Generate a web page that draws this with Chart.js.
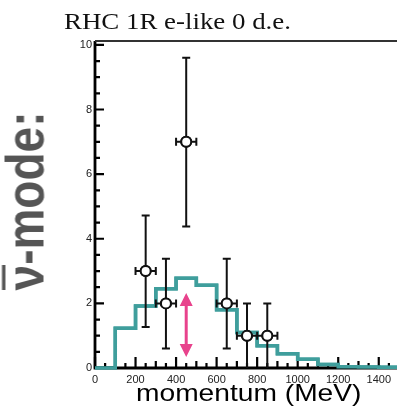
<!DOCTYPE html>
<html lang="en">
<head>
    <meta charset="UTF-8">
    <title>RHC 1R e-like 0 d.e.</title>
    <script src="https://cdn.jsdelivr.net/npm/chart.js"></script>
    <style>
        body { margin: 0; background: #fff; }
        #wrap { position: relative; width: 404px; height: 408px; overflow: hidden; }
        #plot { position: absolute; left: 0; top: 0; }
        .txt { position: absolute; white-space: nowrap; }
        #title { left: 64px; top: 9px; font: 24px/24px "Liberation Serif", serif; color: #111; transform: scaleX(1.12); transform-origin: left top; }
        #xlabel { left: 136px; top: 381px; font: 24.5px/24px "Liberation Sans", Arial, sans-serif; color: #000; transform: scaleX(1.15); transform-origin: left top; }
        #ylabel { left: -95px; top: 171px; width: 240px; height: 60px; text-align: center; font: bold 46px/60px "Liberation Sans", Arial, sans-serif; color: #555; transform: rotate(-90deg) scaleY(1.15); }
        #ylabel .nu { display: inline-block; border-top: 3.5px solid #555; line-height: 0.74em; }
    </style>
</head>
<body>
<div id="wrap">
    <canvas id="plot" width="404" height="408"></canvas>
    <div class="txt" id="title">RHC 1R e-like 0 d.e.</div>
    <div class="txt" id="xlabel">momentum (MeV)</div>
    <div class="txt" id="ylabel"><span class="nu">ν</span>-mode:</div>
</div>

<script>
    // histogram bins (MeV) and expected events
    const binEdges = [0, 100, 200, 300, 400, 500, 600, 700, 800, 900, 1000, 1100, 1200, 1300, 1400, 1500];
    const mcValues = [0, 1.23, 1.92, 2.45, 2.78, 2.56, 1.8, 1.1, 0.69, 0.44, 0.27, 0.11, 0.04, 0.03, 0.02];

    // data points with error bars
    const dataX = [250, 350, 450, 650, 750, 850];
    const dataY = [3, 2, 7, 2, 1, 1];
    const errLow = [1.27, 0.6, 4.38, 0.6, 0, 0];
    const errHigh = [4.72, 3.38, 9.6, 3.38, 2.0, 2.0];
    const binHalf = 50;

    // pink double arrow
    const arrowX = [450];
    const arrowFrom = [0.34];
    const arrowTo = [2.32];

    const xTicks = [0, 200, 400, 600, 800, 1000, 1200, 1400];
    const yTicks = [0, 2, 4, 6, 8, 10];

    const histPoints = binEdges.map((x, i) => ({ x: x, y: mcValues[Math.min(i, mcValues.length - 1)] }));
    const dataPoints = dataX.map((x, i) => ({ x: x, y: dataY[i] }));

    // frame and inside tick marks, ROOT style
    function drawFrame(chart) {
        const ctx = chart.ctx;
        const a = chart.chartArea;
        const xs = chart.scales.x, ys = chart.scales.y;
        ctx.save();
        ctx.lineCap = 'butt';
        ctx.strokeStyle = '#000';
        ctx.lineWidth = 2.8;
        ctx.beginPath();
        ctx.moveTo(a.left, a.top);
        ctx.lineTo(a.left, a.bottom);
        ctx.lineTo(a.right, a.bottom);
        ctx.stroke();
        ctx.strokeStyle = '#333';
        ctx.lineWidth = 2.2;
        ctx.beginPath();
        ctx.moveTo(a.left, a.top);
        ctx.lineTo(a.right, a.top);
        ctx.stroke();

        ctx.strokeStyle = '#000';
        ctx.lineWidth = 2.2;
        ctx.beginPath();
        for (let i = 0; i <= 20; i++) {
            const py = ys.getPixelForValue(i * 0.5);
            const len = (i % 4 === 0) ? 9 : 5;
            ctx.moveTo(a.left, py);
            ctx.lineTo(a.left + len, py);
        }
        for (let i = 0; i <= 29; i++) {
            const px = xs.getPixelForValue(i * 50);
            const len = (i % 4 === 0) ? 11 : ((i % 2 === 0) ? 7 : 5);
            ctx.moveTo(px, a.bottom);
            ctx.lineTo(px, a.bottom - len);
        }
        ctx.stroke();
        ctx.restore();
    }

    const rootStyle = {
        id: 'rootStyle',
        afterDraw(chart) {
            drawFrame(chart);
            const { ctx, scales: { x, y } } = chart;
            // the teal histogram sits on top of the bottom axis where it is ~0
            const hist = chart.getDatasetMeta(1);
            ctx.save();
            ctx.beginPath();
            ctx.rect(chart.chartArea.left, chart.chartArea.top, chart.chartArea.width, chart.chartArea.height + 3);
            ctx.clip();
            hist.dataset.draw(ctx, chart.chartArea);
            ctx.restore();
            // error bars
            ctx.save();
            ctx.strokeStyle = '#111';
            ctx.lineWidth = 2;
            ctx.beginPath();
            dataX.forEach((dx, i) => {
                const px = x.getPixelForValue(dx);
                const py = y.getPixelForValue(dataY[i]);
                const lo = y.getPixelForValue(errLow[i]);
                const hi = y.getPixelForValue(errHigh[i]);
                const l = x.getPixelForValue(dx - binHalf);
                const r = x.getPixelForValue(dx + binHalf);
                ctx.moveTo(px, lo); ctx.lineTo(px, hi);
                ctx.moveTo(px - 4, hi); ctx.lineTo(px + 4, hi);
                if (errLow[i] > 0) { ctx.moveTo(px - 4, lo); ctx.lineTo(px + 4, lo); }
                ctx.moveTo(l, py); ctx.lineTo(r, py);
                ctx.moveTo(l, py - 4); ctx.lineTo(l, py + 4);
                ctx.moveTo(r, py - 4); ctx.lineTo(r, py + 4);
            });
            ctx.stroke();
            ctx.restore();
            // markers on top of the error bars
            chart.getDatasetMeta(0).data.forEach(pt => pt.draw(ctx));
            // pink double arrow
            ctx.save();
            ctx.strokeStyle = '#e8428c';
            ctx.fillStyle = '#e8428c';
            ctx.lineWidth = 3;
            arrowX.forEach((ax, i) => {
                const px = x.getPixelForValue(ax);
                const p0 = y.getPixelForValue(arrowFrom[i]);
                const p1 = y.getPixelForValue(arrowTo[i]);
                const hw = 6.5, hh = 13;
                ctx.beginPath();
                ctx.moveTo(px, p0 - hh + 1);
                ctx.lineTo(px, p1 + hh - 1);
                ctx.stroke();
                ctx.beginPath();
                ctx.moveTo(px, p1); ctx.lineTo(px - hw, p1 + hh); ctx.lineTo(px + hw, p1 + hh); ctx.closePath();
                ctx.moveTo(px, p0); ctx.lineTo(px - hw, p0 - hh); ctx.lineTo(px + hw, p0 - hh); ctx.closePath();
                ctx.fill();
            });
            ctx.restore();
        }
    };

    const tickFont = { family: 'Liberation Sans', size: 11 };

    new Chart(document.getElementById('plot').getContext('2d'), {
        data: {
            datasets: [{
                type: 'scatter',
                data: dataPoints,
                pointRadius: 5,
                pointBorderWidth: 2,
                pointBackgroundColor: '#fff',
                pointBorderColor: '#111'
            }, {
                type: 'line',
                data: histPoints,
                stepped: 'before',
                borderColor: '#3f9e9c',
                borderWidth: 3.5,
                pointRadius: 0,
                fill: false
            }]
        },
        options: {
            responsive: false,
            animation: false,
            events: [],
            layout: { padding: { top: 41, left: 0, right: 0, bottom: 0 } },
            plugins: { legend: { display: false }, tooltip: { enabled: false } },
            scales: {
                x: {
                    type: 'linear',
                    min: 0,
                    max: 1490,
                    grid: { display: false, drawTicks: false },
                    border: { display: false },
                    afterBuildTicks: s => { s.ticks = xTicks.map(v => ({ value: v })); },
                    afterFit: s => { s.height = 40; },
                    ticks: { font: tickFont, color: '#222', padding: 5, maxRotation: 0, callback: v => String(v) }
                },
                y: {
                    type: 'linear',
                    min: 0,
                    max: 10.12,
                    grid: { display: false, drawTicks: false },
                    border: { display: false },
                    afterBuildTicks: s => { s.ticks = yTicks.map(v => ({ value: v })); },
                    afterFit: s => { s.width = 95; },
                    ticks: { font: tickFont, color: '#222', padding: 3, callback: v => String(v) }
                }
            }
        },
        plugins: [rootStyle]
    });
</script>
</body>
</html>
